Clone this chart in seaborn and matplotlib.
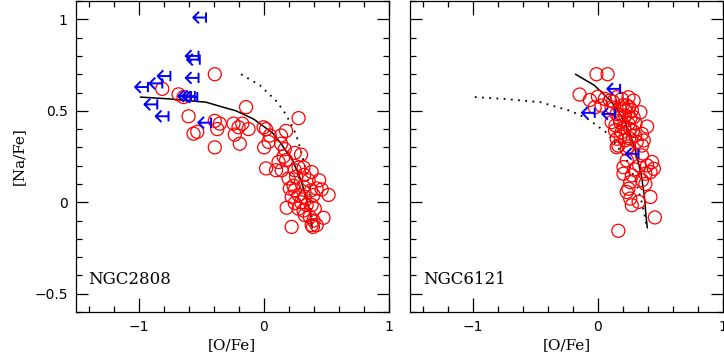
import numpy as np
import matplotlib
matplotlib.use("Agg")
import matplotlib.pyplot as plt
from matplotlib.path import Path
from matplotlib.ticker import MultipleLocator, FuncFormatter
import seaborn as sns

# NGC2808 detections
o_2808 = [-0.81, -0.68, -0.64, -0.39, -0.60, -0.56, -0.53, -0.39, -0.35, -0.37,
          -0.39, -0.24, -0.17, -0.20, -0.12, -0.23, -0.19, -0.14, 0.00, 0.02,
          0.04, 0.005, 0.14, 0.18, 0.14, 0.28, 0.17, 0.25, 0.16, 0.18,
          0.12, 0.10, 0.145, 0.02, 0.20, 0.25, 0.28, 0.32, 0.26, 0.325,
          0.385, 0.36, 0.445, 0.24, 0.21, 0.25, 0.32, 0.38, 0.425, 0.465,
          0.225, 0.28, 0.33, 0.40, 0.52, 0.25, 0.30, 0.345, 0.385, 0.28,
          0.32, 0.41, 0.185, 0.33, 0.37, 0.40, 0.48, 0.425, 0.385, 0.225,
          0.395, 0.30, 0.05]
na_2808 = [0.62, 0.59, 0.575, 0.70, 0.47, 0.375, 0.385, 0.445, 0.43, 0.40,
           0.30, 0.43, 0.43, 0.41, 0.40, 0.37, 0.32, 0.52, 0.41, 0.40,
           0.33, 0.30, 0.365, 0.39, 0.32, 0.46, 0.29, 0.27, 0.25, 0.23,
           0.22, 0.175, 0.175, 0.185, 0.13, 0.175, 0.19, 0.19, 0.14, 0.15,
           0.165, 0.12, 0.12, 0.09, 0.075, 0.065, 0.085, 0.065, 0.075, 0.07,
           0.03, 0.04, 0.03, 0.04, 0.04, -0.005, 0.0, -0.015, -0.015, -0.035,
           -0.045, -0.035, -0.03, -0.07, -0.08, -0.10, -0.085, -0.125, -0.125, -0.135,
           -0.135, 0.26, 0.365]

# NGC2808 upper limits in [O/Fe]
o_2808_lim = [-0.46, -0.52, -0.51, -0.925, -0.81, -0.745, -0.52, -0.58, -0.55,
              -0.53, -0.85, -0.76, -0.42]
na_2808_lim = [1.01, 0.80, 0.78, 0.63, 0.65, 0.69, 0.68, 0.58, 0.58,
               0.575, 0.535, 0.47, 0.435]

# NGC6121 detections
o_6121 = [-0.012, 0.077, -0.147, -0.065, 0.00, -0.026, 0.055, 0.096, 0.15, 0.19,
          0.244, 0.285, 0.028, 0.109, 0.177, 0.23, 0.271, 0.15, 0.217, 0.285,
          0.339, 0.109, 0.177, 0.244, 0.136, 0.19, 0.258, 0.298, 0.393, 0.352,
          0.15, 0.217, 0.366, 0.163, 0.244, 0.15, 0.23, 0.352, 0.23, 0.352,
          0.433, 0.393, 0.447, 0.379, 0.42, 0.204, 0.271, 0.258, 0.352, 0.379,
          0.244, 0.23, 0.258, 0.325, 0.271, 0.42, 0.455, 0.163, 0.204,
          0.12, 0.20, 0.25, 0.22, 0.17, 0.26, 0.30, 0.14, 0.21, 0.28,
          0.18, 0.25, 0.31, 0.33, 0.29]
na_6121 = [0.70, 0.70, 0.589, 0.559, 0.577, 0.519, 0.565, 0.556, 0.574, 0.565,
           0.574, 0.556, 0.529, 0.519, 0.51, 0.529, 0.502, 0.483, 0.474, 0.465,
           0.492, 0.438, 0.438, 0.429, 0.392, 0.383, 0.401, 0.365, 0.414, 0.374,
           0.347, 0.338, 0.338, 0.31, 0.305, 0.301, 0.292, 0.31, 0.229, 0.256,
           0.22, 0.201, 0.183, 0.156, 0.165, 0.156, 0.147, 0.11, 0.12, 0.10,
           0.074, 0.056, 0.02, 0.002, -0.016, 0.029, -0.083, -0.156, 0.192,
           0.55, 0.53, 0.52, 0.50, 0.46, 0.46, 0.43, 0.42, 0.41, 0.39,
           0.36, 0.35, 0.33, 0.20, 0.18]

# NGC6121 upper limits
o_6121_lim = [0.177, -0.026, 0.136, 0.325]
na_6121_lim = [0.62, 0.489, 0.483, 0.265]

# dilution model curves
curve_2808_o = [-0.985, -0.75, -0.46, -0.30, -0.22, -0.08, 0.00, 0.07, 0.13,
                0.235, 0.30, 0.35, 0.37, 0.38, 0.39]
curve_2808_na = [0.575, 0.565, 0.547, 0.515, 0.50, 0.455, 0.415, 0.38, 0.33,
                 0.225, 0.12, 0.0, -0.06, -0.10, -0.14]
curve_6121_o = [-0.18, -0.03, 0.10, 0.16, 0.22, 0.26, 0.30, 0.345, 0.37, 0.385, 0.395]
curve_6121_na = [0.70, 0.64, 0.555, 0.50, 0.43, 0.37, 0.28, 0.155, 0.04, -0.08, -0.14]

panels = [
    ("NGC2808", o_2808, na_2808, o_2808_lim, na_2808_lim,
     (curve_2808_o, curve_2808_na), (curve_6121_o, curve_6121_na)),
    ("NGC6121", o_6121, na_6121, o_6121_lim, na_6121_lim,
     (curve_6121_o, curve_6121_na), (curve_2808_o, curve_2808_na)),
]

sns.set_theme(style="ticks")
plt.rcParams["font.family"] = ["DejaVu Sans"]
plt.rcParams["text.color"] = "black"
plt.rcParams["axes.labelcolor"] = "black"

# upper-limit symbol: bar at the point, arrow pointing to lower [O/Fe]
arrow = Path([(0, -0.4), (0, 0.4), (0, 0), (-1, 0), (-0.55, 0.45), (-1, 0), (-0.55, -0.45)],
             [Path.MOVETO, Path.LINETO, Path.MOVETO, Path.LINETO,
              Path.MOVETO, Path.LINETO, Path.LINETO])

fmt = FuncFormatter(lambda v, pos: f"{v:g}".replace("-", "\u2212"))

fig, axes = plt.subplots(1, 2, figsize=(7.24, 3.59), dpi=100, sharey=True)
fig.subplots_adjust(left=0.105, right=0.9986, bottom=0.131, top=0.997, wspace=0.07)

for ax, (name, ox, nay, olim, nalim, solid, dotted) in zip(axes, panels):
    sns.lineplot(x=dotted[0], y=dotted[1], sort=False, estimator=None, ax=ax,
                 color="black", lw=1.3, linestyle=(0, (1, 3)))
    sns.lineplot(x=solid[0], y=solid[1], sort=False, estimator=None, ax=ax,
                 color="black", lw=1.1)
    sns.scatterplot(x=ox, y=nay, ax=ax, marker="o", s=88, facecolors="none",
                    edgecolor="red", linewidth=0.9, zorder=3)
    sns.scatterplot(x=olim, y=nalim, ax=ax, marker=arrow, s=340, facecolors="none",
                    edgecolor="blue", linewidth=1.4, zorder=4)

    ax.set_xlim(-1.5, 1.0)
    ax.set_ylim(-0.6, 1.1)
    ax.xaxis.set_major_locator(MultipleLocator(1))
    ax.xaxis.set_minor_locator(MultipleLocator(0.2))
    ax.yaxis.set_major_locator(MultipleLocator(0.5))
    ax.yaxis.set_minor_locator(MultipleLocator(0.1))
    ax.xaxis.set_major_formatter(fmt)
    ax.yaxis.set_major_formatter(fmt)
    ax.tick_params(which="both", direction="in", top=True, right=True,
                   width=0.9, color="black", labelcolor="black", labelsize=10, pad=6)
    ax.tick_params(axis="x", which="major", length=10)
    ax.tick_params(axis="y", which="major", length=8.5)
    ax.tick_params(which="minor", length=4.5)
    for sp in ax.spines.values():
        sp.set_linewidth(0.9)
        sp.set_color("black")
    ax.set_xlabel("[O/Fe]", family="DejaVu Serif", fontsize=11, labelpad=3)
    ax.text(0.04, 0.105, name, transform=ax.transAxes, family="DejaVu Serif",
            fontsize=12, va="center", ha="left")

axes[0].set_ylabel("[Na/Fe]", family="DejaVu Serif", fontsize=11, labelpad=6)
axes[1].set_ylabel("")
axes[1].tick_params(labelleft=False)

fig.savefig("out.png", dpi=100)
